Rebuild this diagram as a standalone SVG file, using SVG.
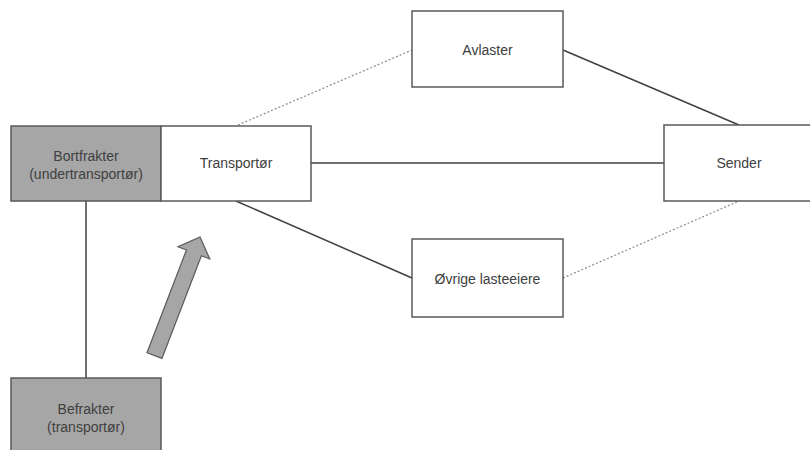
<svg xmlns="http://www.w3.org/2000/svg" width="810" height="450" viewBox="0 0 810 450">
<style>
.box{fill:#ffffff;stroke:#595959;stroke-width:1.5}
.grey{fill:#a6a6a6;stroke:#595959;stroke-width:1.5}
.t{font-family:"Liberation Sans",Arial,sans-serif;font-size:14px;fill:#404040;text-anchor:middle;dominant-baseline:central}
.solid{stroke:#404040;stroke-width:1.5;fill:none}
.dot{stroke:#8c8c8c;stroke-width:1.2;stroke-dasharray:2,2;fill:none}
</style>
<rect width="810" height="450" fill="#ffffff"/>
<g id="connectors">
<line class="dot" x1="238" y1="125" x2="412" y2="50"/>
<line class="solid" x1="563" y1="50" x2="739" y2="125"/>
<line class="solid" x1="311" y1="163" x2="664" y2="163"/>
<line class="solid" x1="236" y1="201" x2="412" y2="278"/>
<line class="dot" x1="563" y1="278" x2="739" y2="201"/>
<line class="solid" x1="86" y1="201" x2="86" y2="378"/>
</g>
<g id="arrow">
<polygon transform="translate(200,237) rotate(21)" points="0,0 17,17 8,17 8,127 -8,127 -8,17 -17,17" fill="#a6a6a6" stroke="#595959" stroke-width="1.2"/>
</g>
<g id="bortfrakter">
<rect class="grey" x="11" y="126" width="150" height="75"/>
<text class="t" x="86" y="156">Bortfrakter</text>
<text class="t" x="86" y="174">(undertransportør)</text>
</g>
<g id="transportor">
<rect class="box" x="161" y="126" width="150" height="75"/>
<text class="t" x="236" y="163">Transportør</text>
</g>
<g id="avlaster">
<rect class="box" x="412" y="11" width="151" height="76"/>
<text class="t" x="487.500" y="50">Avlaster</text>
</g>
<g id="sender">
<rect class="box" x="664" y="125" width="151" height="76"/>
<text class="t" x="739" y="163">Sender</text>
</g>
<g id="ovrige">
<rect class="box" x="412" y="239" width="151" height="78"/>
<text class="t" x="487.500" y="279">Øvrige lasteeiere</text>
</g>
<g id="befrakter">
<rect class="grey" x="11" y="378" width="150" height="80"/>
<text class="t" x="86" y="409">Befrakter</text>
<text class="t" x="86" y="427">(transportør)</text>
</g>
</svg>
